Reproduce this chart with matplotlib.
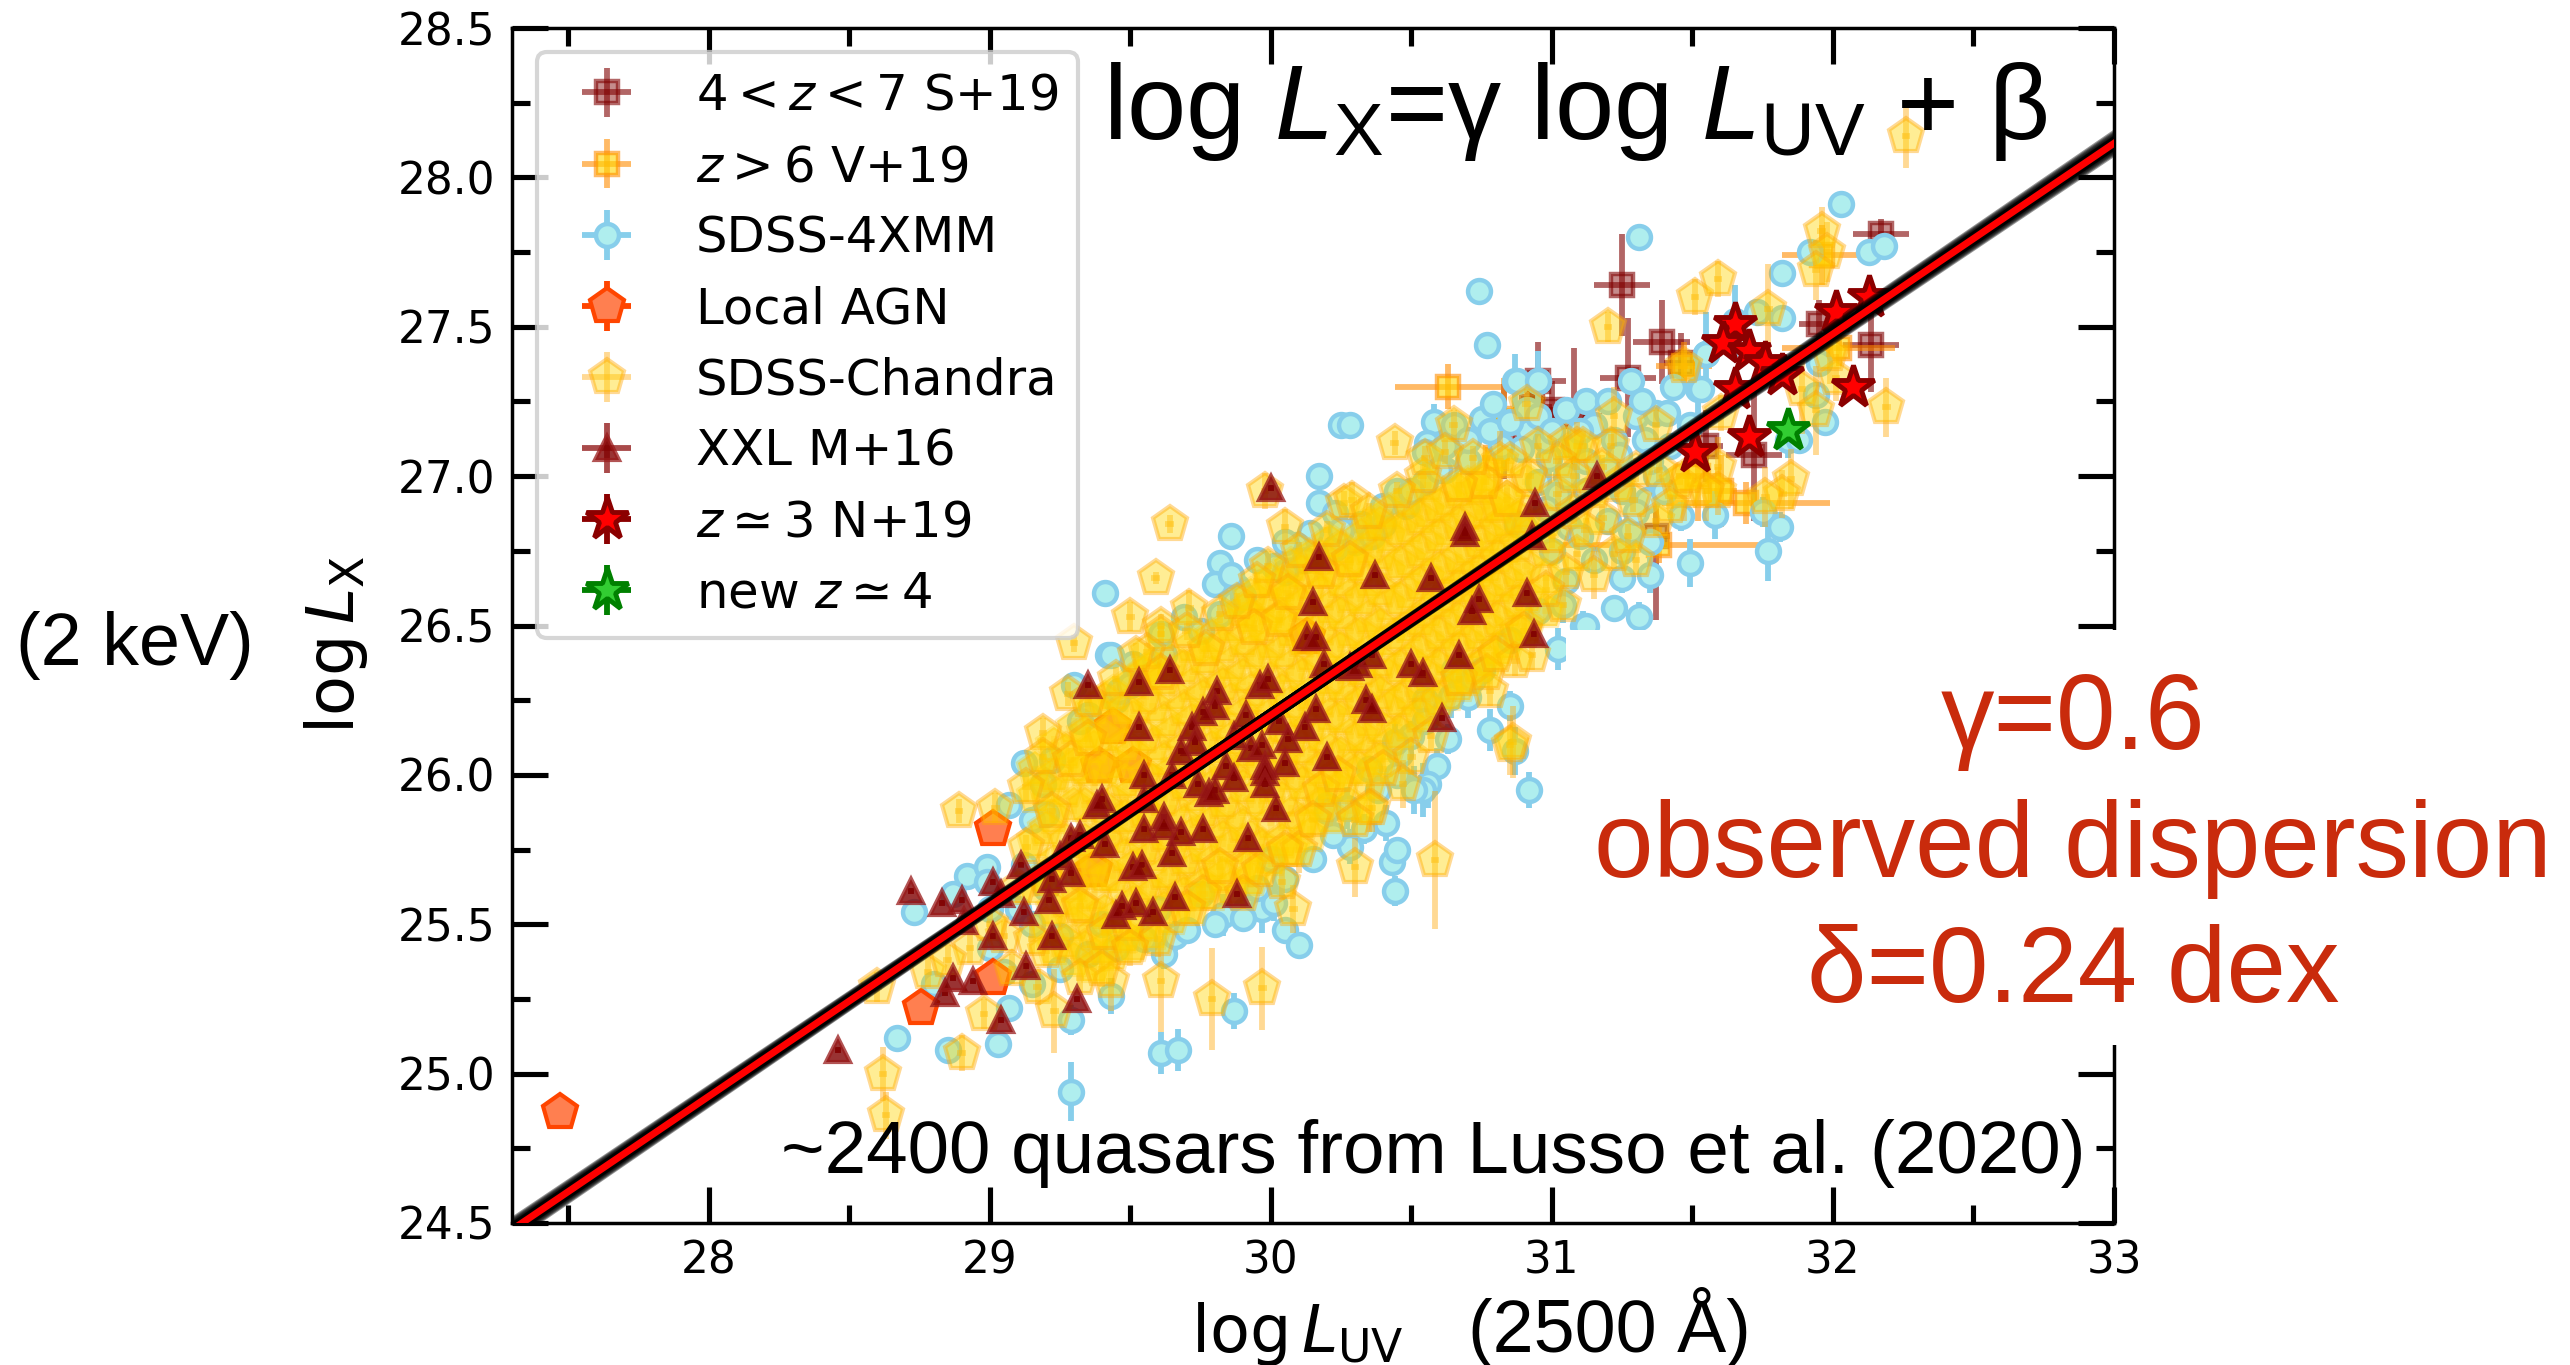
import matplotlib
matplotlib.use("Agg")
import matplotlib.pyplot as plt
from matplotlib.patches import Rectangle
from matplotlib.ticker import MultipleLocator, FormatStrFormatter

# ---------- data (log L_UV, log L_X) ----------
# 4<z<7 S+19: x, y, xerr, yerr
s19 = [(31.25,27.64,.10,.17),(31.39,27.45,.10,.14),(32.17,27.81,.10,.05),(32.135,27.44,.10,.16),
       (31.95,27.51,.07,.08),(31.72,27.07,.10,.22),(31.27,27.33,.10,.20),(31.08,27.20,.10,.23),
       (30.95,27.32,.10,.13),(30.93,27.23,.07,.12),(31.46,27.38,.06,.10),(31.37,26.80,.05,.28),
       (31.00,27.22,.05,.10),(30.83,27.15,.05,.16),(31.55,27.10,.06,.12)]
# z>6 V+19: x, y, xerr, yerr
v19 = [(30.63,27.30,.19,.075),(31.47,27.37,.10,.08),(31.38,26.77,.38,.06),(31.69,26.91,.30,.07),
       (32.02,27.43,.20,.06),(31.96,27.74,.14,.10),(30.83,27.19,.05,.14),(30.80,27.06,.05,.10),
       (31.52,27.0,.08,.15),(31.60,26.95,.06,.12)]
# SDSS-4XMM: small vertical errors
xmm_small = [(29.41,26.61),(29.86,26.80),(29.82,26.71),(29.80,26.64),(29.88,26.63),(29.86,26.67),(29.87,26.58),
             (30.17,27.0),(30.17,26.91),(30.25,27.17),(30.23,26.875),(30.14,26.81),(30.09,26.77),(30.06,26.76),
             (30.23,26.76),(30.32,26.84),(30.40,26.84),(30.01,26.70),(29.61,26.47),(29.42,26.40),(29.69,26.53),
             (29.82,26.54),(29.43,26.40),(29.51,26.37),(29.45,26.25),(29.46,26.28),(29.12,26.04),(29.19,25.97),
             (29.07,25.90),(29.19,25.87),(28.67,25.12),(28.73,25.54),(28.85,25.08),(29.03,25.10),(29.07,25.22),
             (28.92,25.66),(28.99,25.69),(28.87,25.60),(28.99,25.64),(29.2,25.87),
             (30.74,27.62),(30.77,27.44),(32.03,27.91),(31.31,27.80),(31.92,27.75),(31.82,27.68),(32.13,27.75),
             (32.18,27.77),(31.73,27.55),(31.82,27.53),(31.55,27.41),(31.95,27.38),(31.94,27.27),(31.97,27.18),
             (31.88,27.12),(30.65,27.17),(30.75,27.19),(30.79,27.24),(30.875,27.32),(30.95,27.32),(30.91,27.22),
             (30.92,27.15),(30.89,27.09),(30.99,27.06),(31.15,27.17),(31.30,27.20),(31.33,27.12),(31.22,27.12),
             (31.24,27.07),(31.37,27.21),(31.41,27.21),(31.28,27.32),(31.43,27.30),(31.53,27.29),(31.49,27.17),
             (31.37,27.0),(31.34,26.92),(30.28,27.17),(31.02,26.94),(30.875,26.84),(30.9,26.83),(30.98,26.89),
             (31.06,26.83),(31.28,26.82),
             (29.00,25.42),(29.05,25.34),(28.80,25.30),(29.15,25.30),(29.25,25.35),(29.35,25.40),(29.45,25.42),
             (29.55,25.45),(29.70,25.48),(29.80,25.50),(29.1,25.55),(29.2,25.62),(29.0,25.55),
             (29.95,26.72),(30.05,26.78),(30.12,26.72),(30.30,26.78),(30.36,26.80),(30.48,26.90),(30.55,26.98),
             (30.62,27.02),(30.70,27.05),(30.82,27.10),(30.98,27.12),(31.08,27.10),(31.12,27.05),(31.18,27.0),
             (31.25,26.95),(31.30,26.88),(31.12,26.95),(31.05,27.0),(30.95,26.98),(31.2,26.85),(31.1,26.8),
             (31.0,26.75),(31.15,26.72),(31.25,26.75),(31.35,26.78),(31.05,26.65),(30.95,26.55),(30.85,26.45),
             (30.75,26.35),(30.65,26.35),(30.55,26.25),(30.45,26.0),(30.38,25.95),(30.22,25.8),(30.15,25.72),
             (30.05,25.65),(29.95,25.62),(29.9,25.52),(29.3,26.3),(29.35,26.2),
             (30.55,27.08),(30.62,27.10),(30.70,27.12),(30.78,27.15),(30.85,27.18),(30.95,27.20),(31.05,27.22),
             (31.12,27.25),(30.60,27.02),(30.45,26.95),(30.40,26.90),(30.50,26.95),(31.20,27.25),(31.32,27.25),
             (31.35,27.05),(31.40,26.95),(31.42,27.10),(31.00,27.15),(31.10,27.15),(31.20,27.02),
             (29.15,25.50),(29.25,25.46),(29.40,25.50),(29.60,25.55),(29.75,25.60),(30.00,25.72),(30.20,25.88),
             (30.35,26.02),(30.55,26.18),(30.72,26.32),(29.12,25.70),(29.15,25.85),(29.22,26.05),(29.32,26.18),
             (29.50,26.30),(29.62,26.40),(29.75,26.48),(29.90,26.60),(30.05,26.68),(30.25,26.82)]
# SDSS-4XMM: visible vertical errors, x, y, yerr
xmm_long = [(29.29,24.94,.10),(29.61,25.07,.07),(29.67,25.08,.07),(29.87,25.21,.06),(29.29,25.18,.05),
            (29.43,25.26,.06),(29.62,25.40,.05),(29.66,25.46,.05),(30.05,25.48,.04),(30.10,25.43,.04),
            (30.44,25.61,.05),(30.43,25.71,.04),(30.45,25.75,.04),(30.28,25.76,.06),(30.41,25.84,.06),
            (30.33,25.82,.05),(30.59,26.03,.06),(30.56,25.97,.08),(30.54,25.95,.09),(30.51,25.95,.08),
            (30.92,25.95,.06),(30.87,26.08,.08),(30.78,26.15,.07),(30.85,26.23,.05),(30.70,26.26,.07),
            (30.64,26.26,.07),(30.63,26.12,.05),(31.02,26.42,.07),(31.04,26.57,.06),(31.11,26.50,.05),
            (30.46,26.07,.06),(30.5,26.13,.05),(30.44,26.11,.06),(30.27,25.89,.07),(30.20,25.90,.08),
            (29.83,25.53,.07),(29.91,25.55,.07),(29.97,25.55,.08),(30.01,25.57,.06),(31.58,26.87,.08),
            (31.46,26.865,.05),(31.49,26.71,.08),(31.35,26.67,.06),(31.25,26.66,.05),(31.75,26.88,.05),
            (31.81,26.83,.05),(31.77,26.75,.10),(31.22,26.56,.04),(31.31,26.53,.05),(31.12,26.50,.03),
            (30.58,27.18,.06),(30.555,27.11,.08),(31.55,27.41,.14),(31.65,27.52,.12),(31.52,27.29,.10),
            (30.95,27.32,.10),(30.87,27.32,.09),(30.99,27.06,.10),(31.84,27.12,.06)]
# Local AGN
agn = [(27.47,24.87),(28.754,25.22),(29.01,25.32),(29.01,25.82),(29.44,26.16),(29.39,26.03),(29.51,26.03),
       (29.37,25.68),(30.13,26.46)]
# SDSS-Chandra: saturated core, log L_UV column and its log L_X values
core_columns = [
    (29.16,[25.62,25.78,25.93,26.02]),
    (29.23,[25.42,25.55,25.71,25.86,26.0,26.1]),
    (29.30,[25.38,25.5,25.63,25.74,25.9,26.03,26.16]),
    (29.37,[25.36,25.47,25.6,25.72,25.83,25.96,26.09,26.22]),
    (29.44,[25.4,25.52,25.66,25.79,25.91,26.04,26.16,26.27]),
    (29.51,[25.43,25.57,25.69,25.82,25.94,26.07,26.19,26.31]),
    (29.58,[25.47,25.6,25.73,25.85,25.98,26.1,26.23,26.36]),
    (29.65,[25.52,25.64,25.76,25.89,26.01,26.14,26.27,26.38]),
    (29.72,[25.55,25.68,25.8,25.93,26.05,26.18,26.3,26.43]),
    (29.79,[25.6,25.71,25.84,25.96,26.09,26.21,26.34,26.46]),
    (29.86,[25.62,25.76,25.87,26.0,26.12,26.25,26.37,26.5]),
    (29.93,[25.65,25.79,25.92,26.04,26.16,26.28,26.41,26.53,26.6]),
    (30.00,[25.72,25.84,25.96,26.07,26.2,26.32,26.44,26.56,26.65]),
    (30.07,[25.75,25.87,26.0,26.12,26.24,26.36,26.48,26.6,26.7]),
    (30.14,[25.8,25.92,26.04,26.16,26.27,26.4,26.52,26.64,26.73]),
    (30.21,[25.86,25.97,26.08,26.2,26.32,26.44,26.56,26.68,26.78]),
    (30.28,[25.9,26.02,26.13,26.25,26.36,26.48,26.6,26.71]),
    (30.35,[25.97,26.07,26.18,26.3,26.41,26.53,26.65,26.76,26.84]),
    (30.42,[26.1,26.22,26.33,26.45,26.57,26.68,26.8,26.88]),
    (30.49,[26.17,26.27,26.38,26.5,26.61,26.72,26.83,26.92]),
    (30.56,[26.22,26.33,26.44,26.55,26.66,26.77,26.88,26.97]),
    (30.63,[26.27,26.39,26.5,26.6,26.7,26.82,26.92]),
    (30.70,[26.32,26.44,26.55,26.66,26.76,26.87,26.97]),
    (30.77,[26.38,26.5,26.6,26.7,26.8,26.9,27.0]),
    (30.84,[26.44,26.55,26.65,26.76,26.85,26.93]),
    (30.91,[26.5,26.6,26.7,26.8,26.88,26.98]),
    (30.98,[26.55,26.66,26.75,26.85]),
    (29.20,[25.5,25.66,25.82,25.96]),
    (29.27,[25.44,25.58,25.78,25.95,26.08]),
    (29.34,[25.42,25.55,25.67,25.78,25.9,26.02,26.14]),
    (29.41,[25.42,25.54,25.66,25.78,25.89,26.02,26.13,26.25]),
    (29.48,[25.46,25.6,25.73,25.86,25.98,26.1,26.22]),
    (29.55,[25.5,25.63,25.76,25.88,26.0,26.13,26.26,26.34]),
    (29.62,[25.55,25.67,25.8,25.92,26.05,26.18,26.32]),
    (29.69,[25.6,25.72,25.84,25.97,26.09,26.22,26.36]),
    (29.76,[25.63,25.76,25.88,26.0,26.13,26.26,26.39]),
    (29.83,[25.66,25.79,25.91,26.04,26.17,26.3,26.43]),
    (29.90,[25.7,25.83,25.96,26.08,26.2,26.33,26.45,26.55]),
    (29.97,[25.76,25.9,26.02,26.14,26.26,26.38,26.5,26.6]),
    (30.04,[25.78,25.92,26.04,26.16,26.28,26.41,26.53,26.64]),
    (30.11,[25.84,25.97,26.09,26.21,26.33,26.45,26.57,26.68]),
    (30.18,[25.9,26.02,26.13,26.25,26.37,26.49,26.61,26.73]),
    (30.25,[25.96,26.07,26.19,26.3,26.42,26.54,26.65,26.76]),
    (30.32,[26.02,26.13,26.24,26.35,26.47,26.59,26.7,26.8]),
    (30.39,[26.05,26.16,26.27,26.38,26.5,26.62,26.74,26.84]),
    (30.46,[26.14,26.25,26.36,26.47,26.59,26.71,26.82]),
    (30.53,[26.2,26.3,26.41,26.52,26.64,26.75,26.86]),
    (30.60,[26.25,26.36,26.47,26.58,26.69,26.8,26.9]),
    (30.67,[26.3,26.42,26.52,26.63,26.73,26.84,26.95]),
    (30.74,[26.36,26.47,26.58,26.68,26.78,26.88,26.96]),
    (30.81,[26.42,26.52,26.63,26.73,26.83,26.9]),
    (30.88,[26.48,26.58,26.68,26.77,26.86]),
]
# SDSS-Chandra: pale outliers and edge, x, y, yerr
chandra_pts = [(29.64,26.84,.03),(29.59,26.66,.02),(29.50,26.53,.05),(29.30,26.44,.03),(29.71,26.56,.06),(29.98,26.95,.06),
               (30.05,26.83,.06),(29.99,26.70,.05),(30.26,26.91,.04),(30.44,27.11,.04),(29.61,26.5,.04),(30.65,27.17,.05),
               (31.20,27.50,.05),(31.51,27.60,.06),(31.59,27.66,.06),(31.47,27.37,.05),(31.59,27.03,.10),(31.59,26.95,.08),
               (31.47,26.95,.10),(30.91,27.24,.05),(31.22,27.20,.10),(31.37,27.17,.05),(31.09,27.10,.08),(30.815,27.05,.10),
               (30.29,26.92,.06),(31.96,27.82,.08),(31.98,27.75,.10),(31.94,27.69,.10),(31.77,27.56,.15),(32.19,27.23,.10),
               (31.85,26.99,.10),(31.82,26.94,.08),(31.76,26.93,.10),(31.55,26.95,.10),(31.45,26.98,.06),(31.89,27.29,.15),
               (32.01,27.33,.08),(31.99,27.41,.10),(31.60,27.21,.06),(31.94,27.22,.15),(32.26,28.14,.11),
               (29.28,26.27,.04),(29.19,26.14,.05),(29.19,26.06,.06),(28.89,25.88,.04),(29.02,25.89,.05),(29.17,25.29,.06),
               (28.98,25.20,.05),(29.23,25.21,.14),(28.62,25.0,.09),(28.63,24.86,.08),(28.90,25.07,.06),(29.61,25.31,.17),
               (29.79,25.25,.17),(29.97,25.285,.14),(30.585,25.715,.23),(30.30,25.69,.10),(30.10,25.75,.08),(30.08,25.55,.08),
               (30.86,26.11,.12),(29.43,25.31,.10),(29.32,25.32,.05),(28.60,25.29,.05),(30.36,25.89,.08),
               (31.05,27.11,.05),(31.11,27.10,.05),(31.02,27.05,.05),(30.92,27.0,.05),(30.84,26.92,.05),(30.76,26.98,.05),
               (30.67,26.97,.04),(30.54,27.0,.04),(31.02,26.94,.04),(31.18,26.86,.04),(31.09,26.74,.05),(31.22,26.74,.05),
               (31.30,26.72,.05),(31.37,26.85,.05),(31.15,26.67,.08),(31.04,26.57,.05),(31.21,27.10,.04),(31.23,26.97,.04),
               (31.18,27.03,.04),(31.29,26.92,.04),(31.48,27.0,.05),
               (29.29,26.05,.04),(29.35,26.12,.04),(29.61,26.47,.03),(29.56,26.41,.03),(29.61,26.34,.03),(29.82,26.54,.03),
               (29.94,26.49,.03),(30.03,26.52,.03),(30.06,26.61,.03),(30.18,26.68,.03),(30.28,26.72,.03),(29.77,26.42,.03),
               (30.78,26.28,.05),(30.85,26.10,.10),(30.50,26.06,.06),(30.57,26.13,.05),(30.47,25.97,.08),(30.35,25.89,.08),
               (30.18,25.95,.06),(30.24,26.0,.05),(30.87,26.38,.05),(30.93,26.40,.05),(30.67,26.32,.05),(30.77,26.34,.05),
               (29.92,25.69,.05),(29.76,25.6,.05),(30.04,25.64,.06),(29.96,25.68,.05),(29.4,25.35,.06),(29.41,25.47,.05),
               (29.49,25.5,.05),(29.2,25.41,.05),(29.32,25.56,.05),(29.05,25.46,.05),(28.93,25.42,.05),(28.78,25.34,.05),
               (28.85,25.38,.05),(29.2,25.65,.04),(29.13,25.76,.04),(29.22,25.88,.04),(29.82,25.69,.04),
               (30.55,27.06,.04),(30.62,27.08,.04),(30.72,27.06,.04),(30.85,27.05,.04),(30.95,27.1,.04),(31.15,26.95,.04),
               (31.08,26.88,.04),(31.0,26.8,.04),(31.08,27.0,.04),(31.3,27.02,.04),(31.38,27.02,.04),(31.42,26.9,.04),
               (31.27,26.8,.04),(31.12,26.82,.04),(31.05,26.68,.05),(30.98,26.62,.05),(30.9,26.48,.05),(30.8,26.4,.05),
               (30.4,26.02,.05),(30.3,25.85,.05),(30.15,25.85,.05),(30.05,25.75,.05),(29.6,25.45,.06),(29.7,25.55,.05),
               (29.5,25.42,.06),(29.9,25.6,.05),(29.15,25.45,.05),(29.1,25.62,.05),(29.0,25.5,.05),(29.08,25.35,.05),
               (29.13,25.96,.05),(29.35,26.25,.04),(29.45,26.32,.04),(29.52,26.4,.04),(29.7,26.48,.03),(29.88,26.58,.03),
               (29.95,26.65,.03),(30.1,26.75,.03),(30.2,26.82,.03),(30.35,26.88,.03),(30.45,26.95,.03)]
# XXL M+16
xxl = [(30.17,26.73),(30.37,26.67),(30.15,26.58),(30.13,26.46),(30.16,26.46),(30.19,26.37),(30.28,26.36),(30.31,26.37),
       (30.36,26.40),(29.35,26.30),(29.53,26.31),(29.64,26.35),(29.81,26.28),(29.80,26.23),(29.96,26.30),(29.99,26.32),
       (29.91,26.20),(29.76,26.21),(29.72,26.16),(29.73,26.11),(29.68,26.08),(29.53,26.16),(30.34,26.25),(30.36,26.22),
       (30.16,26.22),(30.12,26.16),(30.03,26.18),(30.06,26.12),(29.93,26.09),(29.97,26.10),(29.87,26.13),(30.05,26.04),
       (29.98,26.03),(29.98,26.01),(29.98,25.97),(29.84,26.03),(29.87,25.99),(30.20,26.06),(29.55,26.00),(29.74,25.97),
       (29.78,25.94),(29.80,25.95),(29.65,26.00),(29.38,25.90),(29.40,25.92),(29.55,25.92),(29.62,25.86),(29.55,25.82),
       (29.62,25.83),(29.68,25.81),(29.76,25.82),(29.65,25.74),(29.92,25.79),(30.02,25.89),(29.41,25.77),(29.29,25.79),
       (29.32,25.80),(29.25,25.73),(29.11,25.70),(29.22,25.65),(29.29,25.67),(29.51,25.69),(29.54,25.70),(29.21,25.58),
       (29.12,25.54),(29.45,25.53),(29.47,25.56),(29.52,25.57),(29.58,25.54),(29.66,25.59),(29.88,25.60),(29.22,25.46),
       (29.04,25.60),(28.72,25.61),(28.83,25.57),(28.90,25.58),(29.01,25.64),(29.01,25.46),(28.84,25.27),(28.87,25.32),
       (28.94,25.31),(29.04,25.18),(29.13,25.36),(29.31,25.25),(28.46,25.08),(28.91,25.51),(30.57,26.66),(30.91,26.61),
       (30.74,26.59),(30.715,26.55),(30.935,26.47),(30.67,26.40),(30.50,26.37),(30.54,26.34),(30.61,26.19),(31.16,27.0),
       (30.94,26.91),(30.69,26.83),(30.69,26.81),(30.93,26.80),(30.0,26.96)]
# z~3 N+19 and new z~4
n19 = [(31.65,27.51),(31.61,27.445),(31.70,27.42),(31.76,27.38),(31.82,27.34),(31.65,27.29),(32.07,27.30),(32.01,27.55),
       (32.13,27.60),(31.70,27.13),(31.51,27.08)]
new_z4 = [(31.84,27.155)]
# fit: slopes of the bootstrap lines and the best fit, pivot point
fit_slopes = [0.631, 0.6325, 0.634, 0.6355, 0.637, 0.639, 0.6405, 0.642, 0.6435, 0.645]
fit_gamma = 0.638
fit_pivot = (30.0, 26.2)
fit_x = [27.0, 33.5]
x_ticks = [28, 29, 30, 31, 32, 33]

labels = [r"$4<z<7$ S+19", r"$z>6$ V+19", "SDSS-4XMM", "Local AGN", "SDSS-Chandra", "XXL M+16",
          r"$z\simeq3$ N+19", r"new $z\simeq4$"]

# ---------- figure ----------
W, H = 2570, 1365
plt.rcParams.update({"font.family": "DejaVu Sans", "mathtext.fontset": "dejavusans",
                     "mathtext.rm": "Liberation Sans", "mathtext.it": "Liberation Sans:italic"})
fig = plt.figure(figsize=(W / 100, H / 100), dpi=100, facecolor="white")
L, R, T, B = 512, 2114, 28, 1223
ax = fig.add_axes([L / W, 1 - B / H, (R - L) / W, (B - T) / H])
ax.set_xlim(27.3, 33)
ax.set_ylim(24.5, 28.5)


def ebar(xs, ys, xe, ye, label=None, **kw):
    return ax.errorbar(xs, ys, xerr=xe, yerr=ye, ls="none", capsize=0, label=label, **kw)


elw = 4.2
h = []
# S+19
h.append(ebar([p[0] for p in s19], [p[1] for p in s19], [p[2] for p in s19], [p[3] for p in s19], labels[0],
              marker="s", ms=16, mfc=(.5, 0, 0, .45), mec=(.5, 0, 0, .6), mew=3.2, ecolor=(.5, 0, 0, .6), elinewidth=elw, zorder=2))
# V+19
h.append(ebar([p[0] for p in v19], [p[1] for p in v19], [p[2] for p in v19], [p[3] for p in v19], labels[1],
              marker="s", ms=16, mfc=(1, .84, 0, .6), mec=(1, .55, 0, .6), mew=3.2, ecolor=(1, .55, 0, .6), elinewidth=elw, zorder=2.1))
# SDSS-4XMM
xmm_kw = dict(marker="o", ms=16.5, mfc="#AFEEEE", mec="#87CEEB", mew=3.2, ecolor="#87CEEB", elinewidth=elw, zorder=3)
ebar([p[0] for p in xmm_long], [p[1] for p in xmm_long], 0.01, [p[2] for p in xmm_long], **xmm_kw)
h.append(ebar([p[0] for p in xmm_small], [p[1] for p in xmm_small], 0.01, 0.03, labels[2], **xmm_kw))
# Local AGN
h.append(ebar([p[0] for p in agn], [p[1] for p in agn], 0.01, 0.01, labels[3],
              marker="p", ms=26, mfc="#FF7F50", mec="#FF4500", mew=3, ecolor="#FF4500", elinewidth=elw, zorder=3.2))
# SDSS-Chandra
ch_kw = dict(marker="p", ms=26, mew=3, elinewidth=elw, zorder=3.4)
core_x = [c[0] for c in core_columns for _ in c[1]]
core_y = [v for c in core_columns for v in c[1]]
ebar(core_x, core_y, 0.015, 0.03, mfc=(1, .82, 0, .52), mec=(1, .72, 0, .28), ecolor=(1, .72, 0, .2), **ch_kw)
h.append(ebar([p[0] for p in chandra_pts], [p[1] for p in chandra_pts], 0.015, [p[2] for p in chandra_pts], labels[4],
              mfc=(1, .84, 0, .42), mec=(1, .65, 0, .42), ecolor=(1, .65, 0, .42), **ch_kw))
# XXL
h.append(ebar([p[0] for p in xxl], [p[1] for p in xxl], 0.01, 0.01, labels[5],
              marker="^", ms=17, mfc=(.5, 0, 0, .8), mec=(.6, .1, .1, .75), mew=3, ecolor=(.55, .05, .05, .75), elinewidth=elw, zorder=3.6))
# N+19
h.append(ebar([p[0] for p in n19], [p[1] for p in n19], 0.01, 0.01, labels[6],
              marker="*", ms=32, mfc="red", mec="darkred", mew=3.5, ecolor="darkred", elinewidth=elw, zorder=3.8))
# new z~4
h.append(ebar([p[0] for p in new_z4], [p[1] for p in new_z4], 0.01, 0.01, labels[7],
              marker="*", ms=32, mfc="limegreen", mec="green", mew=3.5, ecolor="green", elinewidth=elw, zorder=3.9))

# fit lines
for s in fit_slopes:
    ax.plot(fit_x, [fit_pivot[1] + s * (v - fit_pivot[0]) for v in fit_x], color="k", alpha=.4, lw=9, zorder=4, solid_capstyle="butt")
fit_y = [fit_pivot[1] + fit_gamma * (v - fit_pivot[0]) for v in fit_x]
ax.plot(fit_x, fit_y, color="k", lw=9, zorder=4.1)
ax.plot(fit_x, fit_y, color="red", lw=5, zorder=4.2)

# axes style
for s in ax.spines.values():
    s.set_linewidth(2.5)
ax.set_xticks(x_ticks)
ax.xaxis.set_minor_locator(MultipleLocator(0.5))
ax.yaxis.set_major_locator(MultipleLocator(0.5))
ax.yaxis.set_minor_locator(MultipleLocator(0.25))
ax.yaxis.set_major_formatter(FormatStrFormatter("%.1f"))
ax.tick_params(which="both", direction="in", top=True, right=True, width=3.7)
ax.tick_params(which="major", length=26, labelsize=31.5, pad=12)
ax.tick_params(which="minor", length=13)

leg = ax.legend(handles=h, loc="upper left", bbox_to_anchor=((537 - L) / (R - L), (B - 52) / (B - T)),
                borderaxespad=0, fontsize=35.8, framealpha=.8, edgecolor="0.8", labelspacing=.465, handletextpad=.8)
leg.get_frame().set_linewidth(3)
leg.set_zorder(10)


# ---------- overlay (pasted look) ----------
def ftext(x, y, s, **kw):
    kw.setdefault("family", "Liberation Sans")
    kw.setdefault("zorder", 7)
    return fig.text(x / W, 1 - y / H, s, **kw)


fig.add_artist(Rectangle((1566 / W, 1 - 1045 / H), (W - 1566) / W, 415 / H, transform=fig.transFigure,
                         fc="white", ec="none", zorder=6))
ftext(1103, 139, r"log $\mathit{L}_{\mathrm{X}}$=γ log $\mathit{L}_{\mathrm{UV}}$ + β", fontsize=76.5, va="baseline", ha="left",
      math_fontfamily="custom")
red = "#C92B0C"
ftext(2073, 721, "γ=0.6", fontsize=77, color=red, ha="center", va="center")
ftext(2073, 849, "observed dispersion", fontsize=77, color=red, ha="center", va="center")
ftext(2073, 974, "δ=0.24 dex", fontsize=77, color=red, ha="center", va="center")
ftext(781, 1153, "~2400 quasars from Lusso et al. (2020)", fontsize=53.7, ha="left", va="center")
ftext(135, 645, "(2 keV)", fontsize=53, ha="center", va="center")
ftext(1468, 1352, "(2500 Å)", fontsize=53, ha="left", va="baseline")
ftext(1191, 1352, r"$\log L_{\rm UV}$", fontsize=47, family="DejaVu Sans", ha="left", va="baseline")
ftext(336, 645, r"$\log L_{\rm X}$", fontsize=47, family="DejaVu Sans", rotation=90, ha="center", va="center")

fig.savefig("out.png", dpi=100)
